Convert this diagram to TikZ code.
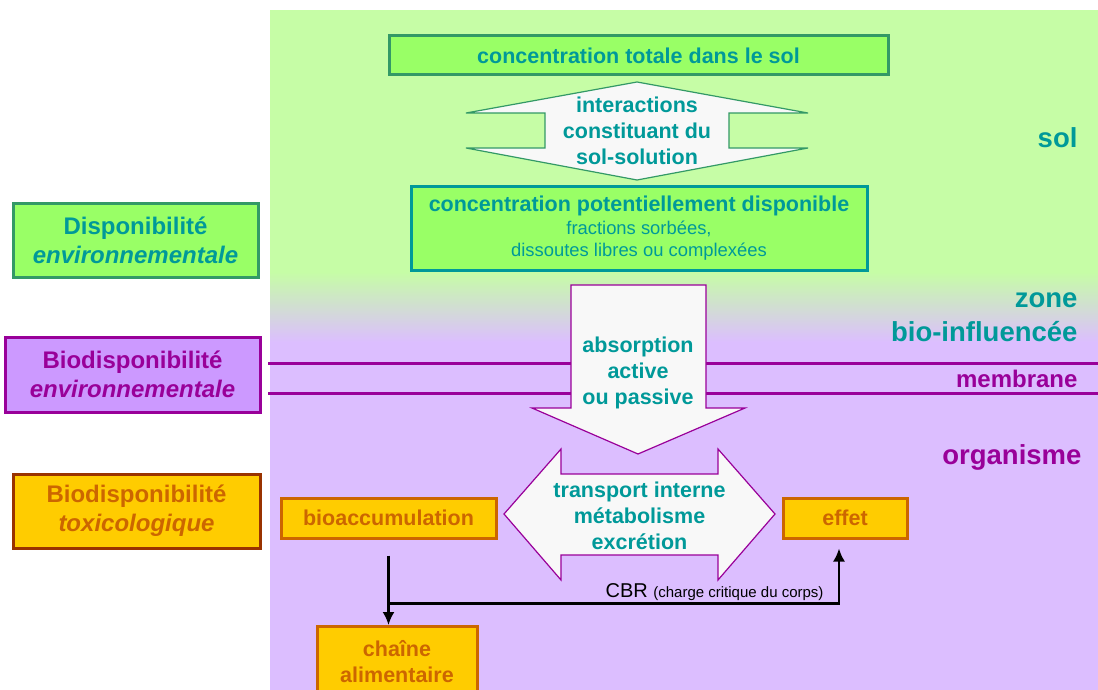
\documentclass[tikz,border=0pt]{standalone}
\usepackage{fontspec}
\setmainfont{Liberation Sans}
\usetikzlibrary{arrows.meta}
\definecolor{bgsol}{RGB}{198,253,166}
\definecolor{bgorg}{RGB}{220,190,255}
\definecolor{vert}{RGB}{153,255,102}
\definecolor{vertfonce}{RGB}{51,153,102}
\definecolor{bleu}{RGB}{0,153,153}
\definecolor{violet}{RGB}{153,0,153}
\definecolor{lilas}{RGB}{204,153,255}
\definecolor{jaune}{RGB}{255,204,0}
\definecolor{ocre}{RGB}{204,102,0}
\definecolor{brique}{RGB}{153,51,0}
\definecolor{fleche}{RGB}{248,248,248}

\begin{document}
\begin{tikzpicture}[x=1pt,y=-1pt,
    box/.style={rectangle,line width=3pt,inner sep=0pt,align=center},
    gbox/.style={box,fill=vert,draw=vertfonce,text=bleu},
    pbox/.style={box,fill=lilas,draw=violet,text=violet},
    obox/.style={box,fill=jaune,draw=ocre,text=ocre},
    fl/.style={fill=fleche,line width=1.2pt,line join=miter},
    conn/.style={line width=2.2pt,-{Latex[length=13pt,width=12pt]}},
    txt/.style={font=\fontsize{21.5}{26}\selectfont\bfseries,align=center},
    side/.style={font=\fontsize{24}{29}\selectfont\bfseries,align=center},
    lbl/.style={font=\fontsize{27.5}{34}\selectfont\bfseries,anchor=base east}]
  \useasboundingbox (0,0) rectangle (1098,690);

  % fond
  \fill[bgsol] (270,10) rectangle (1098,272);
  \shade[top color=bgsol,bottom color=bgorg] (270,272) rectangle (1098,342);
  \fill[bgorg] (270,342) rectangle (1098,690);
  \foreach \y in {363,393}
  { \draw[violet,line width=3pt] (268,\y) -- (1098,\y); }

  % sol
  \node[gbox,txt,minimum width=499,minimum height=39] (tot) at (638.5,55.5)
    {concentration totale dans le sol};
  \draw[fl,draw=vertfonce] (637,82) -- (808,113) -- (729,113) -- (729,148) -- (808,148)
    -- (637,180) -- (466,148) -- (545,148) -- (545,113) -- (466,113) -- cycle;
  \node[txt,text=bleu] (inter) at (637,131) {interactions\\constituant du\\sol-solution};
  \node[gbox,draw=bleu,minimum width=456,minimum height=84,
    font=\fontsize{18.4}{22}\selectfont] (pot) at (639,228)
    {{\fontsize{21.5}{26}\selectfont\bfseries concentration potentiellement disponible}\\[1pt]
     fractions sorbées,\\dissoutes libres ou complexées};

  % absorption
  \draw[fl,draw=violet] (571,285) -- (706,285) -- (706,408) -- (745,408) -- (638,454)
    -- (532,408) -- (571,408) -- cycle;
  \node[txt,text=bleu] (abs) at (638,373) {absorption\\active\\ou passive};

  % organisme
  \draw[fl,draw=violet] (504,514) -- (561,449) -- (561,474) -- (718,474) -- (718,449)
    -- (775,514) -- (718,580) -- (718,555) -- (561,555) -- (561,580) -- cycle;
  \node[txt,text=bleu] (trans) at (639.5,516) {transport interne\\métabolisme\\excrétion};
  \node[obox,txt,minimum width=215,minimum height=40] (bioacc) at (388.5,518) {bioaccumulation};
  \node[obox,txt,minimum width=124,minimum height=40] (effet) at (845,518) {effet};
  \node[obox,txt,minimum width=160,minimum height=70,anchor=north] (chaine) at (397,625)
    {chaîne\\alimentaire};
  \coordinate (cbr) at ([yshift=-64]bioacc.south);
  \draw[conn] ([yshift=-16]bioacc.south) -- (bioacc.south |- chaine.north);
  \draw[conn] (cbr) -| ([xshift=-6,yshift=-9]effet.south);
  \node[anchor=base east,font=\fontsize{20}{24}\selectfont] (cbrlbl) at (827,597)
    {CBR {\fontsize{15}{18}\selectfont(charge critique du corps)}};

  % zones
  \node[lbl,text=bleu] (sol) at (1081,148) {sol};
  \node[lbl,text=bleu] (zone) at (1081,307) {zone};
  \node[lbl,text=bleu] (bio) at (1081,341) {bio-influencée};
  \node[lbl,text=violet,font=\fontsize{24}{29}\selectfont\bfseries] (mem) at (1081,387) {membrane};
  \node[lbl,text=violet] (org) at (1085,464) {organisme};

  % disponibilites
  \node[gbox,side,draw=vertfonce,minimum width=245,minimum height=74] (dispo) at (135.5,240)
    {Disponibilité\\\textit{environnementale}};
  \node[pbox,side,minimum width=255,minimum height=75] (biodispo) at (132.5,374.5)
    {Biodisponibilité\\\textit{environnementale}};
  \node[obox,side,draw=brique,minimum width=247,minimum height=74] (tox) at (136.5,511)
    {Biodisponibilité\\\textit{toxicologique}};
\end{tikzpicture}
\end{document}
